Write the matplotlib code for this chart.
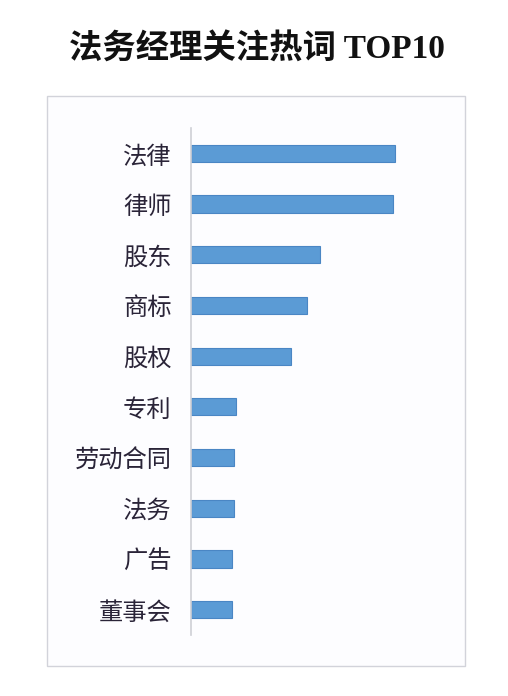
import matplotlib
matplotlib.use("Agg")
import matplotlib.pyplot as plt
from matplotlib.patches import Rectangle

plt.rcParams['font.family'] = ['Noto Sans CJK SC', 'DejaVu Sans']

# data (relative heat)
words = ["法律", "律师", "股东", "商标", "股权", "专利", "劳动合同", "法务", "广告", "董事会"]
heat = [100, 99, 63, 57, 49, 22, 21, 21, 20, 20]
title = "法务经理关注热词 TOP10"

W, H = 508, 696
fig = plt.figure(figsize=(W / 100, H / 100), dpi=100)
fig.patch.set_facecolor("white")

# outer frame of the chart, kept behind the axes
fig.patches.append(Rectangle((47 / W, 1 - 666 / H), (465 - 47) / W, (666 - 96) / H,
                             transform=fig.transFigure, facecolor="#fdfdff",
                             edgecolor="#d2d3da", lw=1.0, zorder=-5))

fig.text(257 / W, 1 - 50 / H, title, ha="center", va="center", fontsize=24,
         fontweight="bold", color="#111111",
         family=["Liberation Serif", "Noto Sans CJK SC"])

ax = fig.add_axes([191 / W, 1 - 635 / H, 249 / W, 507 / H])
ax.set_facecolor("none")
ypos = list(range(len(words)))
ax.barh(ypos, heat, height=0.34, color="#5b9bd5", edgecolor="#4a86c4", lw=0.8)
ax.set_ylim(len(words) - 0.5, -0.5)
ax.set_xlim(0, 249 / 2.04)
ax.set_yticks(ypos)
ax.set_yticklabels(words, fontsize=17.5, color="#2a2438")
ax.tick_params(axis="y", length=0, pad=14)
ax.set_xticks([])
for s in ["top", "right", "bottom"]:
    ax.spines[s].set_visible(False)
ax.spines["left"].set_color("#cfd0d6")
ax.spines["left"].set_linewidth(1.2)

fig.savefig("out.png", dpi=100)
